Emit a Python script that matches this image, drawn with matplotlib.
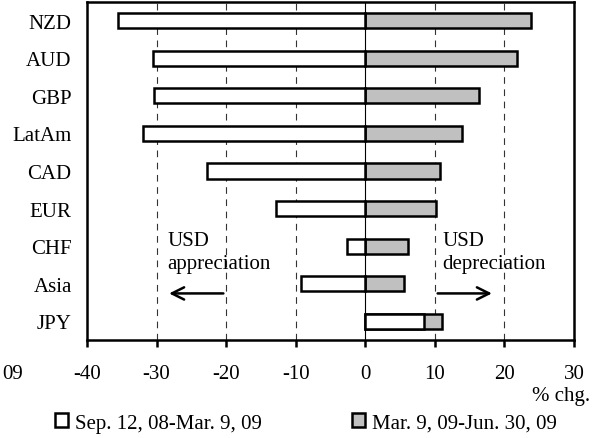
import matplotlib
matplotlib.use("Agg")
import matplotlib.pyplot as plt
import numpy as np

plt.rcParams['font.family'] = ['Liberation Serif', 'DejaVu Serif']

currencies = ["NZD", "AUD", "GBP", "LatAm", "CAD", "EUR", "CHF", "Asia", "JPY"]
first_period = [-35.5, -30.5, -30.4, -32.0, -22.7, -12.8, -2.6, -9.2, 8.4]
second_period = [23.8, 21.8, 16.4, 13.9, 10.7, 10.2, 6.2, 5.5, 11.0]
label_first = "Sep. 12, 08-Mar. 9, 09"
label_second = "Mar. 9, 09-Jun. 30, 09"
xticks = [-40, -30, -20, -10, 0, 10, 20, 30]

fig = plt.figure(figsize=(5.95, 4.39), dpi=100)
ax = fig.add_axes([87/595, 1-341/439, 487/595, 338/439])

y = np.arange(len(currencies))
fs = 15

for xv in [-30, -20, -10, 10, 20]:
    ax.axvline(xv, color='#333333', lw=0.8, ls=(0, (6, 5)), zorder=0)
ax.axvline(0, color='black', lw=0.8, zorder=0)

ax.barh(y, second_period, height=0.4, color='#c0c0c0', edgecolor='black', lw=1.8, zorder=2, label=label_second)
ax.barh(y, first_period, height=0.4, color='white', edgecolor='black', lw=1.8, zorder=3, label=label_first)

ax.set_xlim(-40, 30)
ax.set_ylim(len(currencies) - 0.5, -0.5)
ax.set_yticks(y)
ax.set_yticklabels(currencies, fontsize=fs)
ax.tick_params(axis='y', length=0, pad=11)
ax.set_xticks(xticks)
ax.set_xticklabels([str(v) for v in xticks], fontsize=fs)
ax.tick_params(axis='x', direction='out', length=5, width=1.8, pad=12)
for s in ax.spines.values():
    s.set_linewidth(1.8)

ax.text(-28.4, 5.6, "USD\nappreciation", fontsize=fs, va='top', ha='left', linespacing=1.3)
ax.text(11.1, 5.6, "USD\ndepreciation", fontsize=fs, va='top', ha='left', linespacing=1.3)
ax.annotate("", xy=(-28.6, 7.26), xytext=(-20, 7.26),
            arrowprops=dict(arrowstyle='->', lw=1.8, color='black', mutation_scale=22))
ax.annotate("", xy=(18.6, 7.26), xytext=(10, 7.26),
            arrowprops=dict(arrowstyle='->', lw=1.8, color='black', mutation_scale=22))

fig.text(590/595, 1-397/439, "% chg.", fontsize=fs, ha='right', va='center')
fig.text(2/595, 1-375/439, "09", fontsize=fs, ha='left', va='center')

handles, labels = ax.get_legend_handles_labels()
common = dict(frameon=False, fontsize=fs, handlelength=0.62, handleheight=0.62,
              handletextpad=0.35, borderpad=0, borderaxespad=0)
fig.legend([handles[1]], [labels[1]], loc='center left',
           bbox_to_anchor=(55/595, 1-424/439), **common)
fig.legend([handles[0]], [labels[0]], loc='center left',
           bbox_to_anchor=(352/595, 1-424/439), **common)

fig.savefig("out.png", dpi=100)
